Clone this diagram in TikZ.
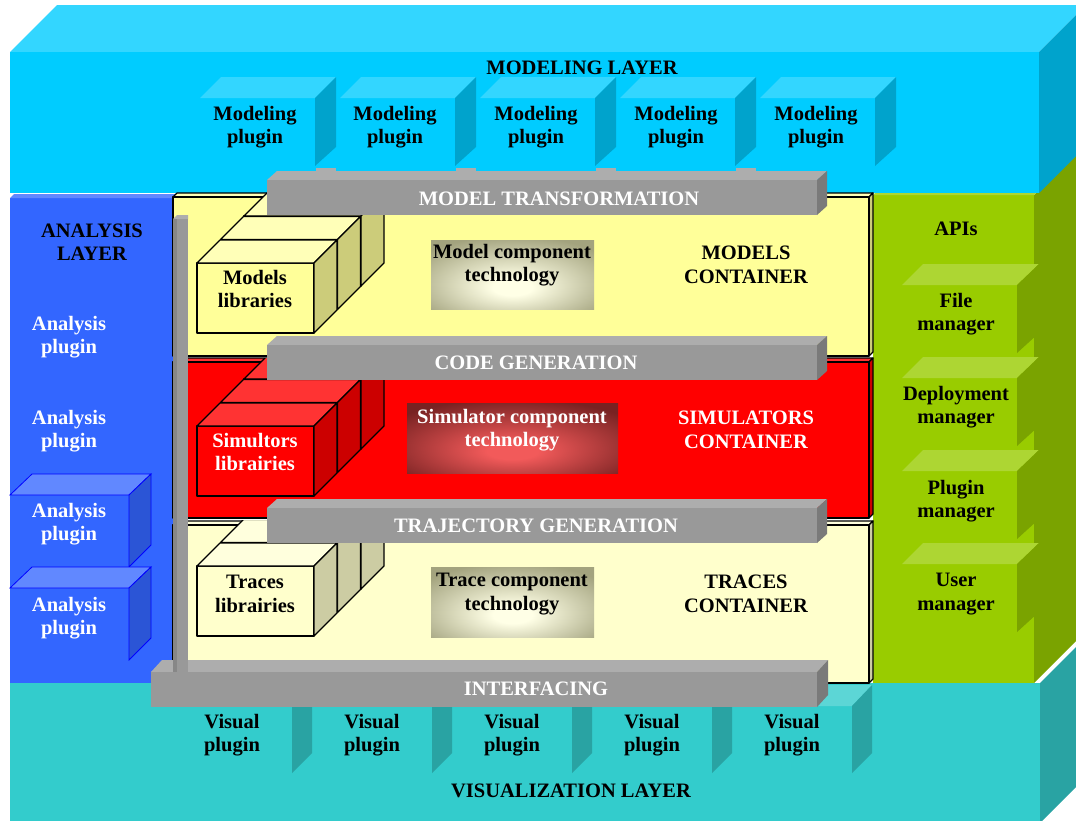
\documentclass[tikz,border=0pt]{standalone}
\usepackage{fontspec}
\setmainfont{Liberation Serif}
\definecolor{cyanF}{HTML}{00CCFF}
\definecolor{cyanT}{HTML}{33D6FF}
\definecolor{cyanS}{HTML}{00A3CC}
\definecolor{tealF}{HTML}{33CCCC}
\definecolor{tealT}{HTML}{5CD6D6}
\definecolor{tealS}{HTML}{29A3A3}
\definecolor{greenF}{HTML}{99CC00}
\definecolor{greenT}{HTML}{ADD633}
\definecolor{greenS}{HTML}{7AA300}
\definecolor{blueF}{HTML}{3366FF}
\definecolor{blueT}{HTML}{6188FF}
\definecolor{blueS}{HTML}{2B55D6}
\definecolor{blueE}{HTML}{0000FF}
\definecolor{ylwF}{HTML}{FFFF99}
\definecolor{ylwT}{HTML}{FFFFB8}
\definecolor{ylwS}{HTML}{CCCC7A}
\definecolor{redF}{HTML}{FF0000}
\definecolor{redT}{HTML}{FF3333}
\definecolor{redS}{HTML}{CC0000}
\definecolor{crmF}{HTML}{FFFFCC}
\definecolor{crmT}{HTML}{FFFFDD}
\definecolor{crmS}{HTML}{CCCCA3}
\definecolor{barF}{HTML}{999999}
\definecolor{barT}{HTML}{ADADAD}
\definecolor{barS}{HTML}{7A7A7A}
\definecolor{techOutY}{HTML}{A3A37E}
\definecolor{techInY}{HTML}{FFFFE6}
\definecolor{techOutR}{HTML}{782222}
\definecolor{techInR}{HTML}{F25A5A}
\pgfdeclareradialshading{techY}{\pgfpoint{0bp}{-10bp}}{color(0bp)=(techInY); color(6bp)=(techInY); color(34bp)=(techOutY); color(80bp)=(techOutY)}
\pgfdeclareradialshading{techR}{\pgfpoint{0bp}{-10bp}}{color(0bp)=(techInR); color(6bp)=(techInR); color(34bp)=(techOutR); color(80bp)=(techOutR)}
\newcommand\mylibstack[3]{%
  \foreach \k in {2,1,0}{%
    \begin{scope}[shift={(23.5*\k,-23.5*\k)}]
      \filldraw[fill=#1,libline] (0,0) rectangle (117,70);
      \filldraw[fill=#2,libline] (0,0) -- (23,-23) -- (140,-23) -- (117,0) -- cycle;
      \filldraw[fill=#3,libline] (117,0) -- (140,-23) -- (140,47) -- (117,70) -- cycle;
    \end{scope}}}
\newcommand\mygraybar[6]{%
  \fill[barT] (#1,#2) -- (#1+#5,#2-#6) -- (#3+#5,#2-#6) -- (#3,#2) -- cycle;
  \fill[barF] (#1,#2) rectangle (#3,#4);
  \fill[barS] (#3,#2) -- (#3+#5,#2-#6) -- (#3+#5,#4-#6) -- (#3,#4) -- cycle;}
\begin{document}
\begin{tikzpicture}[x=1pt,y=-1pt,
  lbl/.style={font=\bfseries\fontsize{20.5}{23.5}\selectfont, align=center, inner sep=0pt},
  wlbl/.style={lbl,text=white},
  libline/.style={draw=black,line width=1.2pt,line join=round},
  cont/.style={draw=black,line width=1.2pt,line join=round}]
\useasboundingbox (0,0) rectangle (1076,820);
\clip (0,0) rectangle (1076,820);

% ---------- visualization layer ----------
\fill[tealF] (10,683) rectangle (1040,830);
\fill[tealS] (1040,683) -- (1086,637) -- (1086,777) -- (1040,823) -- cycle;
\foreach \x in {292,432,572,712,852}{
  \fill[tealT] (\x-116,706) -- (\x-96,685) -- (\x+20,685) -- (\x,706) -- cycle;
  \fill[tealS] (\x,706) -- (\x+20,685) -- (\x+20,753) -- (\x,773) -- cycle;
}

% ---------- API layer ----------
\fill[greenS] (1034,195) -- (1086,143) -- (1086,631) -- (1034,683) -- cycle;
\fill[greenF] (873,195) rectangle (1034,683);
\fill[greenT] (873,195) -- (877,191) -- (1038,191) -- (1034,195) -- cycle;
\foreach \y in {285,378,471,564}{
  \fill[greenT] (902,\y) -- (923,\y-21) -- (1039,\y-21) -- (1017,\y) -- cycle;
  \fill[greenS] (1017,\y) -- (1039,\y-21) -- (1039,\y+48) -- (1017,\y+68) -- cycle;
}

% ---------- analysis layer ----------
\fill[blueF] (10,198) rectangle (177,683);
\fill[blueT] (10,198) -- (14,194) -- (181,194) -- (177,198) -- cycle;
\foreach \y in {495,588}{
  \filldraw[fill=blueT,draw=blueE,line width=0.8pt] (10,\y) -- (32,\y-21) -- (151,\y-21) -- (129,\y) -- cycle;
  \filldraw[fill=blueS,draw=blueE,line width=0.8pt] (129,\y) -- (151,\y-21) -- (151,\y+50) -- (129,\y+72) -- cycle;
}

% ---------- modeling layer ----------
\fill[cyanT] (10,52) -- (57,5) -- (1086,5) -- (1039,52) -- cycle;
\fill[cyanF] (10,52) rectangle (1039,193);
\fill[cyanS] (1039,52) -- (1086,5) -- (1086,146) -- (1039,193) -- cycle;
\foreach \x in {200,340,480,620,760}{
  \fill[cyanT] (\x,98) -- (\x+21,77) -- (\x+136,77) -- (\x+115,98) -- cycle;
  \fill[cyanS] (\x+115,98) -- (\x+136,77) -- (\x+136,147) -- (\x+115,166) -- cycle;
}

% ---------- containers ----------
\filldraw[cont,fill=ylwT] (173,197) -- (177,193) -- (873,193) -- (869,197) -- cycle;
\filldraw[cont,fill=ylwS] (869,197) -- (873,193) -- (873,352) -- (869,356) -- cycle;
\filldraw[cont,fill=ylwF] (173,197) rectangle (869,356);

\filldraw[cont,fill=redT] (173,362) -- (177,358) -- (873,358) -- (869,362) -- cycle;
\filldraw[cont,fill=redS] (869,362) -- (873,358) -- (873,514) -- (869,518) -- cycle;
\filldraw[cont,fill=redF] (173,362) rectangle (869,518);

\filldraw[cont,fill=crmT] (173,525) -- (177,521) -- (873,521) -- (869,525) -- cycle;
\filldraw[cont,fill=crmS] (869,525) -- (873,521) -- (873,679) -- (869,683) -- cycle;
\filldraw[cont,fill=crmF] (173,525) rectangle (869,683);

% ---------- library stacks ----------
\begin{scope}
  \clip (173,190) rectangle (869,356);
  \begin{scope}[shift={(197,263)}]\mylibstack{ylwF}{ylwT}{ylwS}\end{scope}
\end{scope}
\begin{scope}
  \clip (173,358) rectangle (869,518);
  \begin{scope}[shift={(197,426)}]\mylibstack{redF}{redT}{redS}\end{scope}
\end{scope}
\begin{scope}
  \clip (173,520) rectangle (869,683);
  \begin{scope}[shift={(197,566)}]\mylibstack{crmF}{crmT}{crmS}\end{scope}
\end{scope}

% ---------- component technology boxes ----------
\shade[shading=techY] (431,240) rectangle (594,309);
\shade[shading=techR] (407,403) rectangle (618,473);
\shade[shading=techY] (431,567) rectangle (594,637);

% ---------- gray bars ----------
\foreach \x in {316,456,596,736}{
  \fill[barT] (\x,168) rectangle (\x+20,172);
}
\mygraybar{267}{180}{817}{215}{10}{9}
\mygraybar{267}{345}{817}{380}{10}{9}
\mygraybar{267}{508}{817}{543}{10}{9}
\mygraybar{151}{672}{817}{707}{11}{12}

% ---------- pole ----------
\fill[barT] (173,219) -- (177,215) -- (188,215) -- (188,219) -- cycle;
\fill[barF] (173,219) rectangle (188,672);
\fill[barS!90] (173,219) rectangle (177,672);

% ---------- texts ----------
\node[lbl] (mlayer) at (582,68) {MODELING LAYER};
\node[lbl] (mp1) at (255,127) {Modeling\\plugin};
\node[lbl] (mp2) at (395,127) {Modeling\\plugin};
\node[lbl] (mp3) at (536,127) {Modeling\\plugin};
\node[lbl] (mp4) at (676,127) {Modeling\\plugin};
\node[lbl] (mp5) at (816,127) {Modeling\\plugin};

\node[wlbl] (mtrans) at (559,199) {MODEL TRANSFORMATION};
\node[wlbl] (cgen) at (536,363) {CODE GENERATION};
\node[wlbl] (tgen) at (536,526) {TRAJECTORY GENERATION};
\node[wlbl] (intf) at (536,689) {INTERFACING};

\node[lbl] (alayer) at (92,242) {ANALYSIS\\LAYER};
\node[wlbl] (ap1) at (69,337) {Analysis\\plugin};
\node[wlbl] (ap2) at (69,431) {Analysis\\plugin};
\node[wlbl] (ap3) at (69,524) {Analysis\\plugin};
\node[wlbl] (ap4) at (69,618) {Analysis\\plugin};

\node[lbl] (apis) at (956,229) {APIs};
\node[lbl] (fm) at (956,314) {File\\manager};
\node[lbl] (dm) at (956,407) {Deployment\\manager};
\node[lbl] (pm) at (956,501) {Plugin\\manager};
\node[lbl] (um) at (956,594) {User\\manager};

\node[lbl] (mlib) at (255,289) {Models\\libraries};
\node[lbl] (mtech) at (512,265) {Model component\\technology};
\node[lbl] (mcont) at (746,265) {MODELS\\CONTAINER};

\node[wlbl] (slib) at (255,452) {Simultors\\librairies};
\node[wlbl] (stech) at (512,430) {Simulator component\\technology};
\node[wlbl] (scont) at (746,430) {SIMULATORS\\CONTAINER};

\node[lbl] (tlib) at (255,594) {Traces\\librairies};
\node[lbl] (ttech) at (512,594) {Trace component\\technology};
\node[lbl] (tcont) at (746,594) {TRACES\\CONTAINER};

\node[lbl] (vp1) at (232,735) {Visual\\plugin};
\node[lbl] (vp2) at (372,735) {Visual\\plugin};
\node[lbl] (vp3) at (512,735) {Visual\\plugin};
\node[lbl] (vp4) at (652,735) {Visual\\plugin};
\node[lbl] (vp5) at (792,735) {Visual\\plugin};
\node[lbl] (vlayer) at (571,791) {VISUALIZATION LAYER};
\end{tikzpicture}
\end{document}
